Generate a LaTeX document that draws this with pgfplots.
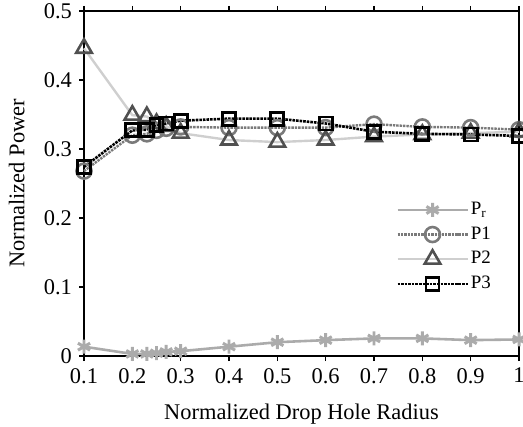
\documentclass[border=0pt]{standalone}
\usepackage{pgfplots}
\pgfplotsset{compat=1.18}
\usepackage{fontspec}
\setmainfont{Liberation Serif}
\usetikzlibrary{plotmarks}
\definecolor{prgray}{HTML}{ABABAB}
\definecolor{ponegray}{HTML}{7A7A7A}
\definecolor{ptwoline}{HTML}{CFCFCF}
\definecolor{ptwomark}{HTML}{505050}
\begin{document}
\fontsize{21}{25}\selectfont
\begin{tikzpicture}
\begin{axis}[
  scale only axis,
  width=435bp, height=345bp,
  xmin=0.1, xmax=1, ymin=0, ymax=0.5,
  xtick={0.1,0.2,...,1.0},
  xticklabels={0.1,0.2,0.3,0.4,0.5,0.6,0.7,0.8,0.9,1},
  ytick={0,0.1,0.2,0.3,0.4,0.5},
  yticklabels={0,0.1,0.2,0.3,0.4,0.5},
  tick align=outside,
  xtick pos=both,
  ytick pos=left,
  major tick length=5bp,
  tick style={line width=1.2pt, black},
  axis line style={line width=1.4pt},
  ticklabel style={font=\fontsize{22.5}{26}\selectfont},
  label style={font=\fontsize{22.5}{26}\selectfont},
  xlabel={Normalized Drop Hole Radius},
  ylabel={Normalized Power},
  xlabel style={yshift=-6bp},
  ylabel style={yshift=5bp},
  clip=false,
  legend style={draw=none, fill=none, at={(0.715,0.455)}, anchor=north west,
    font=\fontsize{19}{22}\selectfont, row sep=5bp, inner sep=1bp},
  legend cell align=left,
  legend image code/.code={
    \draw[mark repeat=2,mark phase=2,#1] plot coordinates {(0bp,0bp) (35bp,0bp) (70bp,0bp)};
  },
]
\addplot[prgray, line width=2.6pt, mark=asterisk, mark size=7bp,
  mark options={solid, line width=3pt, prgray}]
  coordinates {(0.1,0.0135) (0.2,0.003) (0.23,0.003) (0.25,0.004) (0.27,0.006) (0.3,0.007)
  (0.4,0.0135) (0.5,0.020) (0.6,0.023) (0.7,0.0255) (0.8,0.0255) (0.9,0.023) (1.0,0.024)};
\addlegendentry{P\textsubscript{r}}
\addplot[ponegray, line width=2.4pt, densely dotted, mark=o, mark size=7.5bp,
  mark options={solid, line width=2.6pt, ponegray}]
  coordinates {(0.1,0.268) (0.2,0.320) (0.23,0.322) (0.25,0.327) (0.27,0.330) (0.3,0.332)
  (0.4,0.331) (0.5,0.331) (0.6,0.331) (0.7,0.336) (0.8,0.332) (0.9,0.331) (1.0,0.328)};
\addlegendentry{P1}
\addplot[ptwoline, line width=2.4pt, mark=triangle, mark size=9bp,
  mark options={solid, line width=2.6pt, ptwomark}]
  coordinates {(0.1,0.446) (0.2,0.349) (0.23,0.347) (0.25,0.337) (0.27,0.333) (0.3,0.323)
  (0.4,0.313) (0.5,0.310) (0.6,0.313) (0.7,0.318) (0.8,0.321) (0.9,0.323) (1.0,0.325)};
\addlegendentry{P2}
\addplot[black, line width=2.6pt, densely dotted, mark=square, mark size=6.5bp,
  mark options={solid, line width=2.8pt, black}]
  coordinates {(0.1,0.274) (0.2,0.327) (0.23,0.328) (0.25,0.335) (0.27,0.337) (0.3,0.341)
  (0.4,0.344) (0.5,0.344) (0.6,0.337) (0.7,0.325) (0.8,0.322) (0.9,0.321) (1.0,0.319)};
\addlegendentry{P3}
\coordinate (sw) at (rel axis cs:0,0);
\coordinate (ne) at (rel axis cs:1,1);
\end{axis}
\pgfresetboundingbox
\useasboundingbox ([xshift=-84bp,yshift=-70bp]sw) rectangle ([xshift=4bp,yshift=11bp]ne);
\end{tikzpicture}
\end{document}
